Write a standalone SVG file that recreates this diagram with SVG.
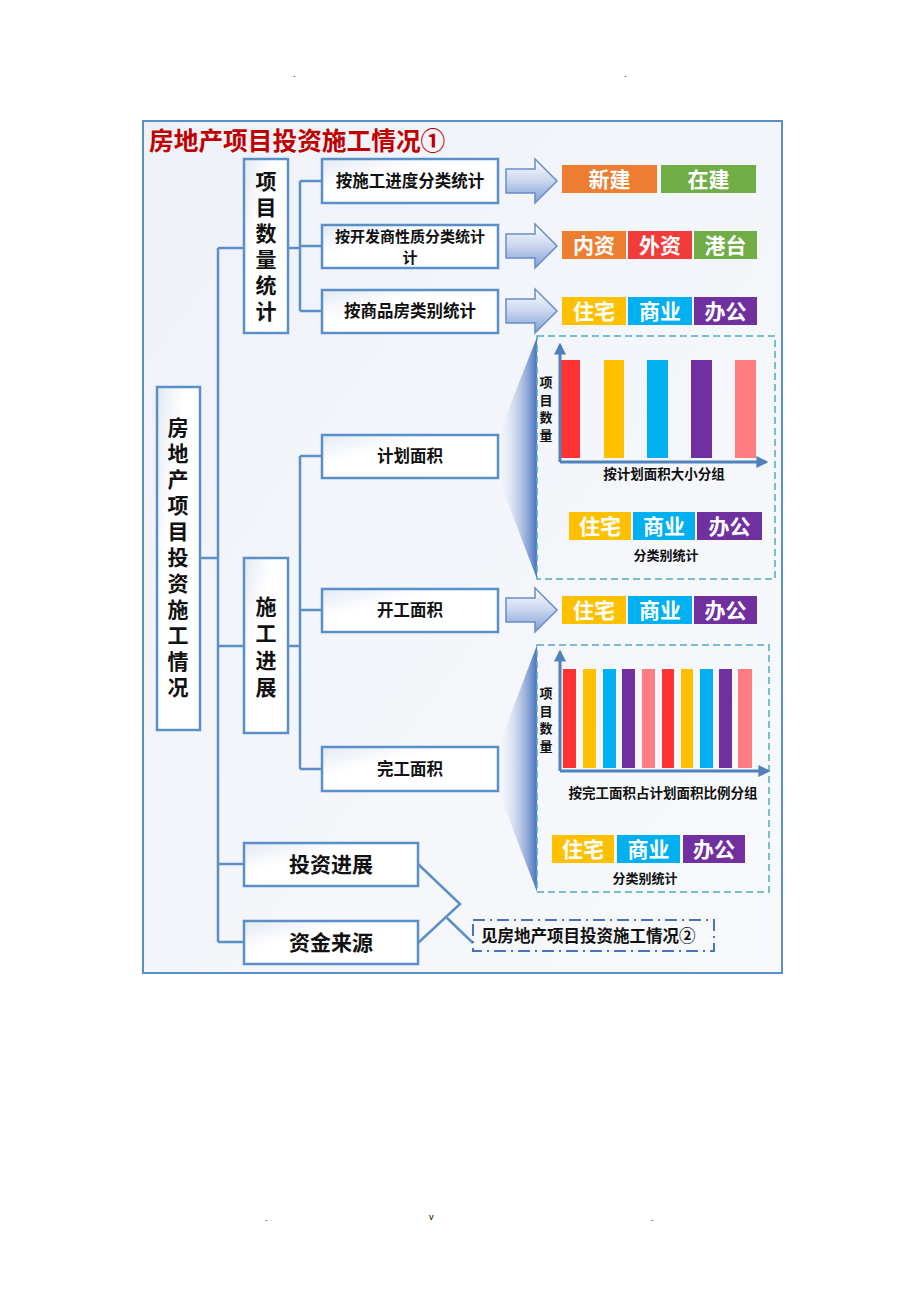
<svg xmlns="http://www.w3.org/2000/svg" width="920" height="1302" viewBox="0 0 920 1302">
<defs>
<linearGradient id="bg" x1="0" y1="0" x2="1" y2="1"><stop offset="0" stop-color="#eef2f8"/><stop offset="1" stop-color="#f8f9fc"/></linearGradient>
<linearGradient id="nodeg" x1="0" y1="0" x2="1" y2="1"><stop offset="0" stop-color="#e3e9f3"/><stop offset="0.35" stop-color="#ffffff"/><stop offset="1" stop-color="#ffffff"/></linearGradient>
<linearGradient id="arrg" x1="0" y1="0" x2="0" y2="1"><stop offset="0" stop-color="#ffffff"/><stop offset="0.5" stop-color="#c9d6ee"/><stop offset="1" stop-color="#7f9fd6"/></linearGradient>
<linearGradient id="wedg" x1="0" y1="0" x2="1" y2="0"><stop offset="0" stop-color="#ffffff" stop-opacity="0.2"/><stop offset="1" stop-color="#4a72c0"/></linearGradient>
<marker id="ah" viewBox="0 0 10 10" refX="8" refY="5" markerWidth="4" markerHeight="4" orient="auto"><path d="M0,0 L10,5 L0,10 Z" fill="#4f81bd"/></marker>
<style>
.frame{fill:url(#bg);stroke:#5b8fc7;stroke-width:2}
.node{fill:url(#nodeg);stroke:#5b8fc7;stroke-width:2.5}
.conn{fill:none;stroke:#5b8fc7;stroke-width:2.5}
.t{font-family:"Noto Sans CJK SC","Liberation Sans",sans-serif;font-weight:bold;fill:#111}
.v{writing-mode:vertical-rl;text-anchor:start}
.b{font-family:"Noto Sans CJK SC","Liberation Sans",sans-serif;font-weight:bold;fill:#fff;font-size:21px}
.arr{fill:url(#arrg);stroke:#6a8cc8;stroke-width:1.5}
.wedge{fill:url(#wedg)}
.panel{fill:none;stroke:#4bacc6;stroke-width:1.5;stroke-dasharray:7,4}
.axis{fill:none;stroke:#4f81bd;stroke-width:3;marker-end:url(#ah)}
.dot{font-family:"Liberation Sans",sans-serif;font-size:9px;fill:#000}
</style>
</defs>
<rect width="920" height="1302" fill="#ffffff"/>
<text class="dot" x="293" y="77">.</text>
<text class="dot" x="624" y="77">.</text>
<text class="dot" x="265" y="1221">.</text>
<text class="dot" x="429" y="1220">v</text>
<text class="dot" x="651" y="1221">.</text>

<rect class="frame" x="143" y="121" width="639" height="852"/>
<text x="149" y="150" font-family="Noto Sans CJK SC,Liberation Sans,sans-serif" font-weight="bold" font-size="24.7" fill="#c00000">房地产项目投资施工情况①</text>

<g id="connectors">
<path class="conn" d="M200,558 H218 M218,248 V942 M218,248 H244 M218,646 H244 M218,864 H244 M218,942 H244"/>
<path class="conn" d="M288,248 H300 M300,181 V311 M300,181 H322 M300,246 H322 M300,311 H322"/>
<path class="conn" d="M288,646 H300 M300,456 V769 M300,456 H322 M300,610 H322 M300,769 H322"/>
<path class="conn" d="M418,864 L460,904 L418,943 M447,918 L473,943" stroke-width="2"/>
<path class="arr" d="M506,169 H535 V159 L557,181 L535,203 V193 H506 Z"/>
<path class="arr" d="M506,234 H535 V224 L557,246 L535,268 V258 H506 Z"/>
<path class="arr" d="M506,299 H535 V289 L557,311 L535,333 V323 H506 Z"/>
<path class="arr" d="M506,598 H535 V588 L557,610 L535,632 V622 H506 Z"/>
<polygon class="wedge" points="498,436 537,337 537,579 498,477"/>
<polygon class="wedge" points="498,748 537,645 537,892 498,790"/>
</g>

<g id="root"><rect class="node" x="157" y="387" width="43" height="343"/>
<text class="t v" font-size="21" letter-spacing="5" x="178" y="417">房地产项目投资施工情况</text></g>

<g id="n-count"><rect class="node" x="244" y="159" width="44" height="174"/>
<text class="t v" font-size="21" letter-spacing="5" x="266" y="171">项目数量统计</text></g>

<g id="n-progress"><rect class="node" x="244" y="558" width="44" height="175"/>
<text class="t v" font-size="21" letter-spacing="6" x="266" y="596">施工进展</text></g>

<g id="n-stage"><rect class="node" x="322" y="159" width="176" height="44"/><text class="t" font-size="16.5" x="410" y="187" text-anchor="middle">按施工进度分类统计</text></g>
<g id="n-dev"><rect class="node" x="322" y="225" width="176" height="43"/><text class="t" font-size="15" x="410" y="242" text-anchor="middle">按开发商性质分类统计</text><text class="t" font-size="15" x="410" y="263" text-anchor="middle">计</text></g>
<g id="n-type"><rect class="node" x="322" y="290" width="176" height="43"/><text class="t" font-size="16.5" x="410" y="317" text-anchor="middle">按商品房类别统计</text></g>
<g id="n-plan"><rect class="node" x="322" y="435" width="176" height="43"/><text class="t" font-size="16.5" x="410" y="462" text-anchor="middle">计划面积</text></g>
<g id="n-start"><rect class="node" x="322" y="589" width="176" height="43"/><text class="t" font-size="16.5" x="410" y="616" text-anchor="middle">开工面积</text></g>
<g id="n-done"><rect class="node" x="322" y="747" width="176" height="44"/><text class="t" font-size="16.5" x="410" y="775" text-anchor="middle">完工面积</text></g>
<g id="n-invest"><rect class="node" x="244" y="843" width="174" height="43"/><text class="t" font-size="21" x="331" y="872" text-anchor="middle">投资进展</text></g>
<g id="n-fund"><rect class="node" x="244" y="921" width="174" height="43"/><text class="t" font-size="21" x="331" y="950" text-anchor="middle">资金来源</text></g>
<g id="n-see"><rect x="473" y="920" width="241" height="31" fill="none" stroke="#4a74b8" stroke-width="2" stroke-dasharray="12,5,2,5"/><text class="t" font-size="16.5" x="481" y="942">见房地产项目投资施工情况②</text></g>

<g id="b-stage">
<rect x="562" y="165" width="95" height="28" fill="#ed7d31"/><text class="b" x="609.5" y="187" text-anchor="middle">新建</text>
<rect x="661" y="165" width="95" height="28" fill="#70ad47"/><text class="b" x="708.5" y="187" text-anchor="middle">在建</text>
</g>
<g id="b-dev">
<rect x="562" y="231" width="64" height="28" fill="#ed7d31"/><text class="b" x="594" y="253" text-anchor="middle">内资</text>
<rect x="628" y="231" width="64" height="28" fill="#f23b3b"/><text class="b" x="660" y="253" text-anchor="middle">外资</text>
<rect x="694" y="231" width="63" height="28" fill="#70ad47"/><text class="b" x="725.5" y="253" text-anchor="middle">港台</text>
</g>
<g id="b-type">
<rect x="562" y="297" width="64" height="28" fill="#ffc000"/><text class="b" x="594" y="319" text-anchor="middle">住宅</text>
<rect x="628" y="297" width="64" height="28" fill="#00b0f0"/><text class="b" x="660" y="319" text-anchor="middle">商业</text>
<rect x="694" y="297" width="63" height="28" fill="#7030a0"/><text class="b" x="725.5" y="319" text-anchor="middle">办公</text>
</g>
<g id="b-start">
<rect x="562" y="596" width="64" height="28" fill="#ffc000"/><text class="b" x="594" y="618" text-anchor="middle">住宅</text>
<rect x="628" y="596" width="64" height="28" fill="#00b0f0"/><text class="b" x="660" y="618" text-anchor="middle">商业</text>
<rect x="694" y="596" width="63" height="28" fill="#7030a0"/><text class="b" x="725.5" y="618" text-anchor="middle">办公</text>
</g>

<g id="panel-plan">
<rect class="panel" x="537" y="336" width="238" height="243"/>
<rect x="561" y="360" width="19" height="98" fill="#ff3333"/>
<rect x="604" y="360" width="20" height="98" fill="#ffc000"/>
<rect x="647" y="360" width="21" height="98" fill="#00b0f0"/>
<rect x="691" y="360" width="21" height="98" fill="#7030a0"/>
<rect x="735" y="360" width="21" height="98" fill="#ff7c80"/>
<path class="axis" d="M560,462 V345"/>
<path class="axis" d="M560,462 H766"/>
<text class="t v" font-size="13" letter-spacing="4.5" x="546" y="376">项目数量</text>
<text class="t" font-size="13.5" x="664" y="479" text-anchor="middle">按计划面积大小分组</text>
<rect x="569" y="512" width="62" height="28" fill="#ffc000"/><text class="b" x="600" y="534" text-anchor="middle">住宅</text>
<rect x="633" y="512" width="62" height="28" fill="#00b0f0"/><text class="b" x="664" y="534" text-anchor="middle">商业</text>
<rect x="697" y="512" width="65" height="28" fill="#7030a0"/><text class="b" x="729.5" y="534" text-anchor="middle">办公</text>
<text class="t" font-size="13" x="666" y="560" text-anchor="middle">分类别统计</text>
</g>

<g id="panel-done">
<rect class="panel" x="537" y="645" width="232" height="247"/>
<rect x="563" y="669" width="13" height="99" fill="#ff3333"/>
<rect x="583" y="669" width="13" height="99" fill="#ffc000"/>
<rect x="603" y="669" width="13" height="99" fill="#00b0f0"/>
<rect x="622" y="669" width="13" height="99" fill="#7030a0"/>
<rect x="642" y="669" width="13" height="99" fill="#ff7c80"/>
<rect x="662" y="669" width="12" height="99" fill="#ff3333"/>
<rect x="681" y="669" width="12" height="99" fill="#ffc000"/>
<rect x="700" y="669" width="13" height="99" fill="#00b0f0"/>
<rect x="719" y="669" width="13" height="99" fill="#7030a0"/>
<rect x="738" y="669" width="14" height="99" fill="#ff7c80"/>
<path class="axis" d="M560,771 V652"/>
<path class="axis" d="M560,771 H768"/>
<text class="t v" font-size="13" letter-spacing="4.5" x="546" y="687">项目数量</text>
<text class="t" font-size="13.5" x="663" y="798" text-anchor="middle">按完工面积占计划面积比例分组</text>
<rect x="552" y="835" width="62" height="28" fill="#ffc000"/><text class="b" x="583" y="857" text-anchor="middle">住宅</text>
<rect x="617" y="835" width="63" height="28" fill="#00b0f0"/><text class="b" x="648.5" y="857" text-anchor="middle">商业</text>
<rect x="683" y="835" width="62" height="28" fill="#7030a0"/><text class="b" x="714" y="857" text-anchor="middle">办公</text>
<text class="t" font-size="13" x="645" y="883" text-anchor="middle">分类别统计</text>
</g>
</svg>
